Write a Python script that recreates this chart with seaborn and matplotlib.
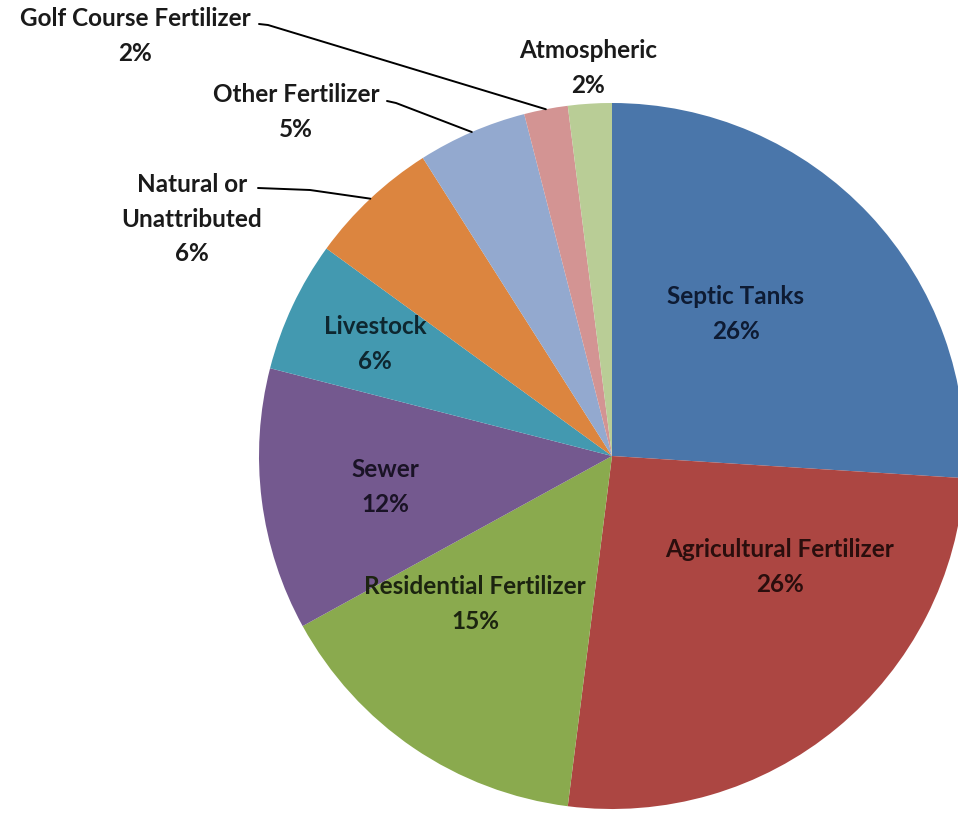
import numpy as np
import matplotlib
matplotlib.use("Agg")
import matplotlib.pyplot as plt
import seaborn as sns

# ---- data ----
categories = ["Septic Tanks", "Agricultural Fertilizer", "Residential Fertilizer",
              "Sewer", "Livestock", "Natural or\nUnattributed", "Other Fertilizer",
              "Golf Course Fertilizer", "Atmospheric"]
values = [26, 26, 15, 12, 6, 6, 5, 2, 2]
colors = ["#4A76AA", "#AC4642", "#8AAA4E", "#74598F", "#4399B0",
          "#DC853F", "#93A9CF", "#D39493", "#B9CD96"]

sns.set_theme(style="white")
plt.rcParams["font.family"] = ["Lato", "DejaVu Sans"]

W, H = 958, 813
fig = plt.figure(figsize=(W / 100, H / 100), dpi=100)
ax = fig.add_axes([0, 0, 1, 1])

cx, cy, R = 612, 456, 353
wedges, _ = ax.pie(values, colors=sns.color_palette(colors), startangle=-90,
                   counterclock=True, center=(cx, cy), radius=R,
                   wedgeprops=dict(linewidth=0), frame=True)
ax.set_xlim(0, W)
ax.set_ylim(H, 0)
ax.set_aspect("equal", adjustable="box")
ax.axis("off")

# label layout (pixel positions of label centres)
label_pos = {
    0: (736, 314),
    1: (780, 567),
    2: (475, 604),
    3: (385, 487),
    4: (375, 344),
    5: (192, 219),
    6: (296, 112),
    7: (135, 36),
    8: (588, 68),
}
txt_colors = ["#0E1B33", "#2A0E0D", "#1C2410", "#1A1326", "#0E2730",
              "#1A1A1A", "#1A1A1A", "#1A1A1A", "#1A1A1A"]

for i, (cat, v) in enumerate(zip(categories, values)):
    x, y = label_pos[i]
    ax.text(x, y, f"{cat}\n{v}%", ha="center", va="center", fontsize=17.5,
            fontweight="bold", color=txt_colors[i], linespacing=1.6)

# leader lines for outside labels: (text end point, elbow)
leaders = {
    7: [(259, 24), (268, 25)],
    6: [(387, 101), (396, 103)],
    5: [(258, 188), (310, 190)],
}
for i, pts in leaders.items():
    w = wedges[i]
    mid = np.deg2rad((w.theta1 + w.theta2) / 2)
    ex = w.center[0] + w.r * np.cos(mid)
    ey = w.center[1] + w.r * np.sin(mid)
    xs = [p[0] for p in pts] + [ex]
    ys = [p[1] for p in pts] + [ey]
    ax.plot(xs, ys, color="black", lw=1.4)

fig.savefig("out.png", dpi=100, facecolor="white")
